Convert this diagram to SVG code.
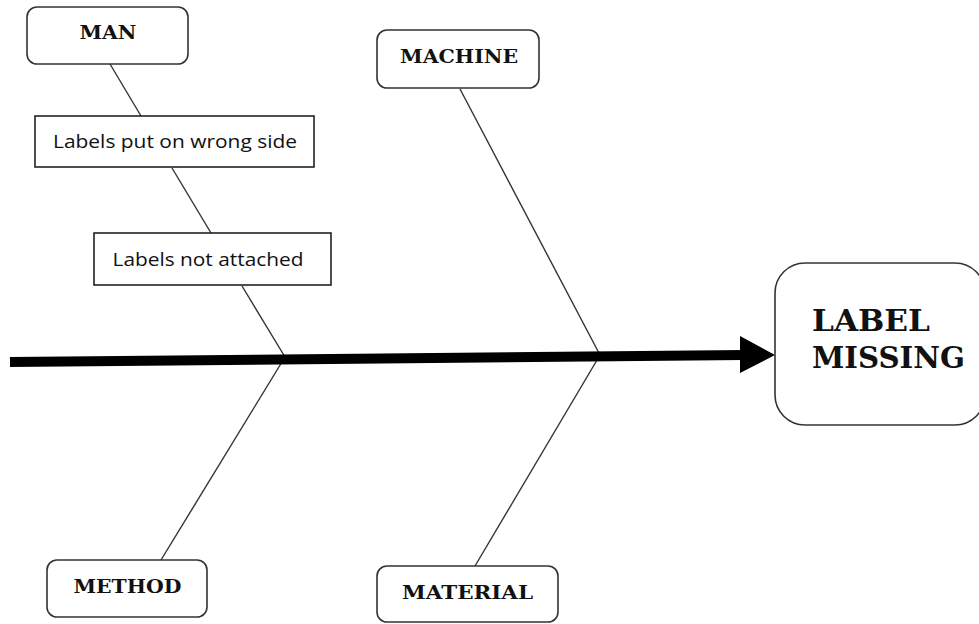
<svg xmlns="http://www.w3.org/2000/svg" width="979" height="624" viewBox="0 0 979 624">
<style>
.box{fill:#fff;stroke:#333;stroke-width:1.6}
.rect{fill:#fff;stroke:#222;stroke-width:1.6}
.bone{stroke:#333;stroke-width:1.4;fill:none}
.cat{font-family:"DejaVu Serif","Liberation Serif",serif;font-weight:bold;font-size:19px;fill:#111;text-anchor:middle}
.cause{font-family:"Open Sans","Liberation Sans",sans-serif;font-size:18px;fill:#111;text-anchor:middle}
.head{font-family:"DejaVu Serif","Liberation Serif",serif;font-weight:bold;font-size:29px;fill:#111}
</style>
<rect width="979" height="624" fill="#fff"/>
<g id="connectors">
<line class="bone" x1="110" y1="64" x2="141" y2="116"/>
<line class="bone" x1="172" y1="168" x2="211" y2="233"/>
<line class="bone" x1="242" y1="286" x2="285" y2="357"/>
<line class="bone" x1="460" y1="89" x2="600" y2="355"/>
<line class="bone" x1="285" y1="357" x2="161" y2="560"/>
<line class="bone" x1="600" y1="355" x2="475" y2="566"/>
<line x1="10" y1="362" x2="745" y2="355" stroke="#000" stroke-width="10"/>
<polygon points="740,336 775,355 740,373" fill="#000"/>
</g>
<g id="man">
<rect class="box" x="27" y="7" width="161" height="57" rx="10"/>
<text class="cat" x="108" y="39" textLength="57" lengthAdjust="spacingAndGlyphs">MAN</text>
</g>
<g id="cause1">
<rect class="rect" x="35" y="116" width="279" height="51"/>
<text class="cause" x="175" y="148" textLength="244" lengthAdjust="spacingAndGlyphs">Labels put on wrong side</text>
</g>
<g id="cause2">
<rect class="rect" x="94" y="233" width="237" height="52"/>
<text class="cause" x="208" y="266" textLength="191" lengthAdjust="spacingAndGlyphs">Labels not attached</text>
</g>
<g id="machine">
<rect class="box" x="377" y="30" width="162" height="58" rx="10"/>
<text class="cat" x="459" y="63" textLength="118" lengthAdjust="spacingAndGlyphs">MACHINE</text>
</g>
<g id="method">
<rect class="box" x="47" y="560" width="160" height="57" rx="10"/>
<text class="cat" x="127.5" y="593" textLength="108" lengthAdjust="spacingAndGlyphs">METHOD</text>
</g>
<g id="material">
<rect class="box" x="377" y="566" width="181" height="56" rx="10"/>
<text class="cat" x="467.5" y="599" textLength="131" lengthAdjust="spacingAndGlyphs">MATERIAL</text>
</g>
<g id="effect">
<rect class="box" x="775" y="263" width="210" height="162" rx="30"/>
<text class="head" x="812" y="331" textLength="118" lengthAdjust="spacingAndGlyphs">LABEL</text>
<text class="head" x="812" y="368" textLength="153" lengthAdjust="spacingAndGlyphs">MISSING</text>
</g>
</svg>
